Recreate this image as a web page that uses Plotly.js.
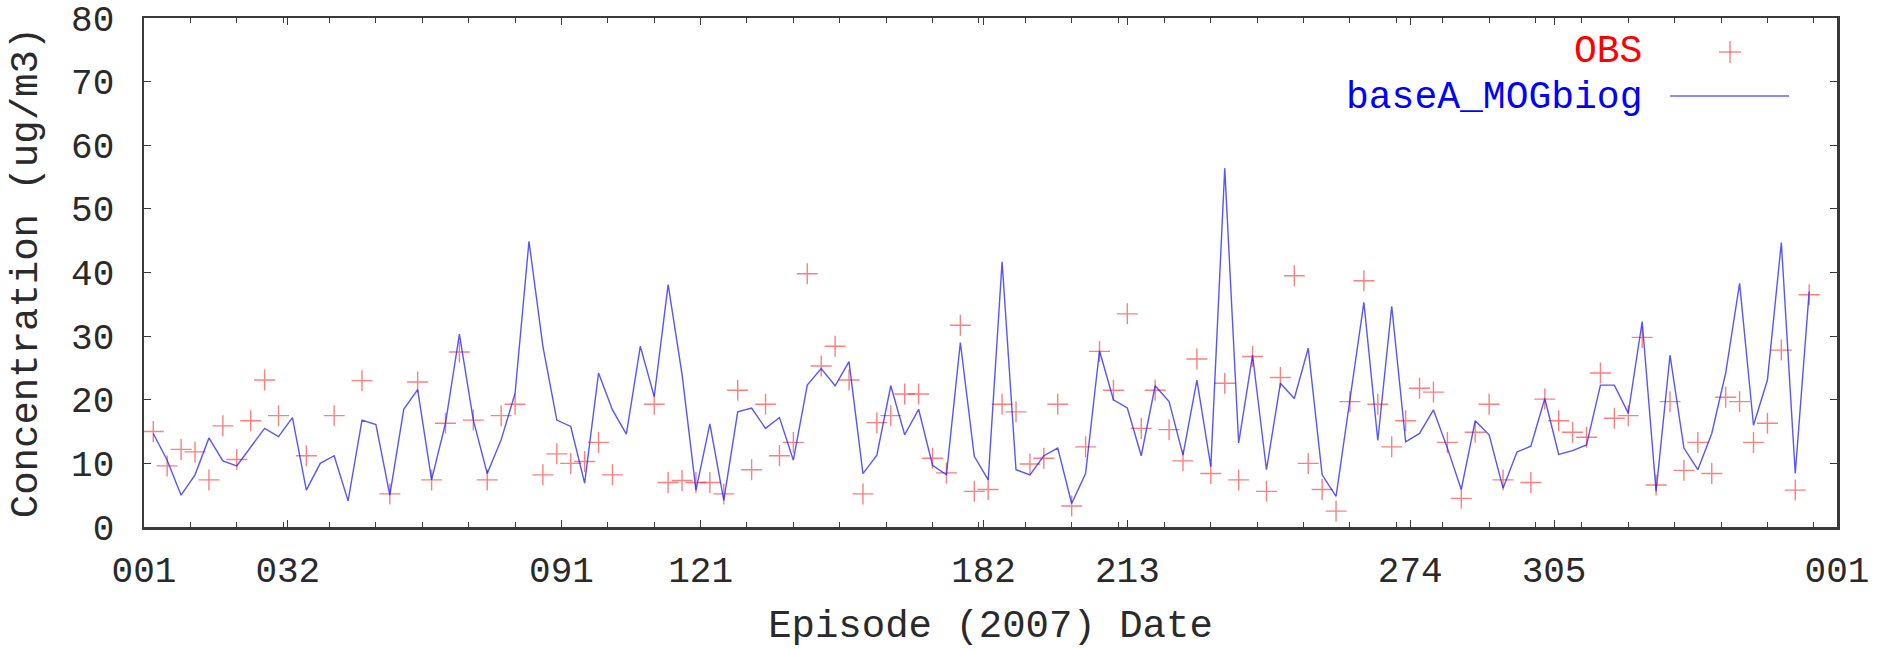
<!DOCTYPE html>
<html>
<head>
<meta charset="utf-8">
<script src="https://cdn.plot.ly/plotly-3.0.1.min.js"></script>
<style>
  html, body { margin: 0; padding: 0; background: #fff; }
  #chart { width: 1881px; height: 649px; }
</style>
</head>
<body>
<div id="chart"></div>
<script>
// ---- data ----
const days = [
  3,6,9,12,15,18,21,24,27,30,
  33,36,39,42,45,48,51,54,57,60,
  63,66,69,72,75,78,81,84,87,90,
  93,96,99,102,105,108,111,114,117,120,
  123,126,129,132,135,138,141,144,147,150,
  153,156,159,162,165,168,171,174,177,180,
  183,186,189,192,195,198,201,204,207,210,
  213,216,219,222,225,228,231,234,237,240,
  243,246,249,252,255,258,261,264,267,270,
  273,276,279,282,285,288,291,294,297,300,
  303,306,309,312,315,318,321,324,327,330,
  333,336,339,342,345,348,351,354,357,360
];

const modelValues = [
  14.7,10.5,5.0,8.2,14.0,10.4,9.6,12.6,15.5,14.2,
  17.2,5.8,10.0,11.2,4.1,16.8,16.1,5.0,18.5,21.6,
  7.4,16.3,30.3,16.8,8.4,13.7,21.0,44.9,28.4,16.8,
  15.8,6.9,24.2,18.4,14.6,28.4,20.5,38.1,24.0,5.8,
  16.2,4.2,18.1,18.7,15.5,17.2,10.5,22.3,24.9,22.2,
  26.0,8.4,11.3,22.2,14.5,18.5,9.7,8.2,29.0,11.1,
  7.4,41.7,9.0,8.2,11.2,12.4,3.7,8.4,27.7,20.0,
  18.7,11.2,22.2,19.7,11.3,23.1,9.5,56.4,13.2,27.0,
  9.0,22.6,20.2,28.1,8.2,4.8,19.7,35.3,13.6,34.7,
  13.4,14.7,18.4,12.4,5.9,16.7,14.5,6.1,11.8,12.7,
  20.2,11.4,12.0,12.9,22.3,22.3,17.9,32.3,5.6,27.0,
  12.4,9.0,14.7,24.2,38.3,16.0,23.1,44.7,8.4,37.0
];

const obsValues = [
  15.0,9.6,12.2,11.8,7.4,15.9,10.6,16.7,23.1,17.5,
  null,11.2,null,17.5,null,23.0,null,5.2,null,22.8,
  7.4,16.3,27.5,16.8,7.4,17.5,19.3,null,8.2,11.5,
  10.0,10.3,13.3,8.2,null,null,19.3,7.0,7.3,7.0,
  7.0,5.2,21.5,9.0,19.3,11.2,13.3,39.8,25.3,28.4,
  23.1,5.2,16.4,17.5,20.9,20.9,10.8,8.5,31.7,5.6,
  5.9,19.3,18.1,9.9,10.8,19.3,3.3,12.6,27.6,21.5,
  33.5,15.5,21.5,15.3,10.4,26.4,8.4,22.6,7.4,26.8,
  5.6,23.5,39.5,10.0,5.9,2.5,19.7,38.7,19.3,12.6,
  16.7,21.8,21.2,13.3,4.5,14.9,19.3,7.4,null,7.0,
  20.1,16.7,14.9,14.1,24.2,17.1,17.5,29.8,6.6,19.7,
  8.9,13.3,8.4,20.4,19.7,13.3,16.3,27.8,5.8,36.5
];

const seriesNames = ['OBS', 'baseA_MOGbiog'];
const xTickVals = [1, 32, 91, 121, 182, 213, 274, 305, 366];
const xTickText = ['001', '032', '091', '121', '182', '213', '274', '305', '001'];
const yTickVals = [0, 10, 20, 30, 40, 50, 60, 70, 80];
const xTitle = 'Episode (2007) Date';
const yTitle = 'Concentration (ug/m3)';

// ---- styling / layout ----
const W = 1881, H = 649;
const M = { l: 143.5, r: 44, t: 18, b: 122 };
const plotW = W - M.l - M.r, plotH = H - M.t - M.b;
const px = x => (x - M.l) / plotW;
const py = y => (H - M.b - y) / plotH;

const FONT = 'Liberation Mono, Courier New, monospace';
const TXT = '#2a2a2a';
const AXC = '#3a3a3a';
const obsColor = 'rgba(255,40,40,0.6)';
const modelColor = 'rgba(30,30,255,0.75)';

const traces = [
  {
    x: days, y: obsValues, name: seriesNames[0], type: 'scatter', mode: 'markers',
    marker: { symbol: 'cross-thin-open', size: 15, color: obsColor,
              line: { color: obsColor, width: 1.4 } },
    cliponaxis: false, showlegend: false
  },
  {
    x: days, y: modelValues, name: seriesNames[1], type: 'scatter', mode: 'lines',
    line: { color: modelColor, width: 1.4 },
    showlegend: false
  }
];

const axisCommon = {
  showgrid: false, zeroline: false, showline: true, linecolor: AXC, linewidth: 2.5,
  mirror: 'allticks', ticks: 'inside', ticklen: 7, tickwidth: 1, tickcolor: AXC,
  ticklabeloverflow: 'allow',
  tickfont: { family: FONT, size: 36, color: TXT }
};

// legend (gnuplot style: text right-aligned, sample on its right)
const legY1 = 52, legY2 = 97, legTextRight = 1644;
const annotations = [
  { xref: 'paper', yref: 'paper', x: px(legTextRight), y: py(legY1), xanchor: 'right', yanchor: 'middle',
    text: seriesNames[0], showarrow: false, font: { family: FONT, size: 38, color: '#ff0000' } },
  { xref: 'paper', yref: 'paper', x: px(legTextRight), y: py(legY2), xanchor: 'right', yanchor: 'middle',
    text: seriesNames[1], showarrow: false, font: { family: FONT, size: 38, color: '#0000ff' } }
];
const shapes = [
  { type: 'line', xref: 'paper', yref: 'paper', x0: px(1719), x1: px(1741), y0: py(legY1), y1: py(legY1),
    line: { color: obsColor, width: 1.4 } },
  { type: 'line', xref: 'paper', yref: 'paper', x0: px(1730), x1: px(1730), y0: py(legY1 - 11), y1: py(legY1 + 11),
    line: { color: obsColor, width: 1.4 } },
  { type: 'line', xref: 'paper', yref: 'paper', x0: px(1670), x1: px(1789), y0: py(legY2 - 1), y1: py(legY2 - 1),
    line: { color: 'rgba(60,60,255,0.8)', width: 1.4 } }
];

const layout = {
  width: W, height: H, margin: M,
  paper_bgcolor: '#fff', plot_bgcolor: '#fff',
  font: { family: FONT, color: TXT },
  showlegend: false,
  xaxis: Object.assign({}, axisCommon, {
    range: [1, 366], tickmode: 'array', tickvals: xTickVals, ticktext: xTickText,
    ticklabelstandoff: 9,
    minor: { tickmode: 'linear', tick0: 1, dtick: 10, ticks: 'inside', ticklen: 5, tickcolor: AXC, showgrid: false },
    title: { text: xTitle, font: { family: FONT, size: 39, color: TXT }, standoff: 18 }
  }),
  yaxis: Object.assign({}, axisCommon, {
    range: [0, 80], tickmode: 'array', tickvals: yTickVals,
    ticklabelstandoff: 20,
    title: { text: yTitle, font: { family: FONT, size: 39, color: TXT }, standoff: 22 }
  }),
  annotations: annotations,
  shapes: shapes
};

Plotly.newPlot('chart', traces, layout, { displayModeBar: false, staticPlot: true });
</script>
</body>
</html>
